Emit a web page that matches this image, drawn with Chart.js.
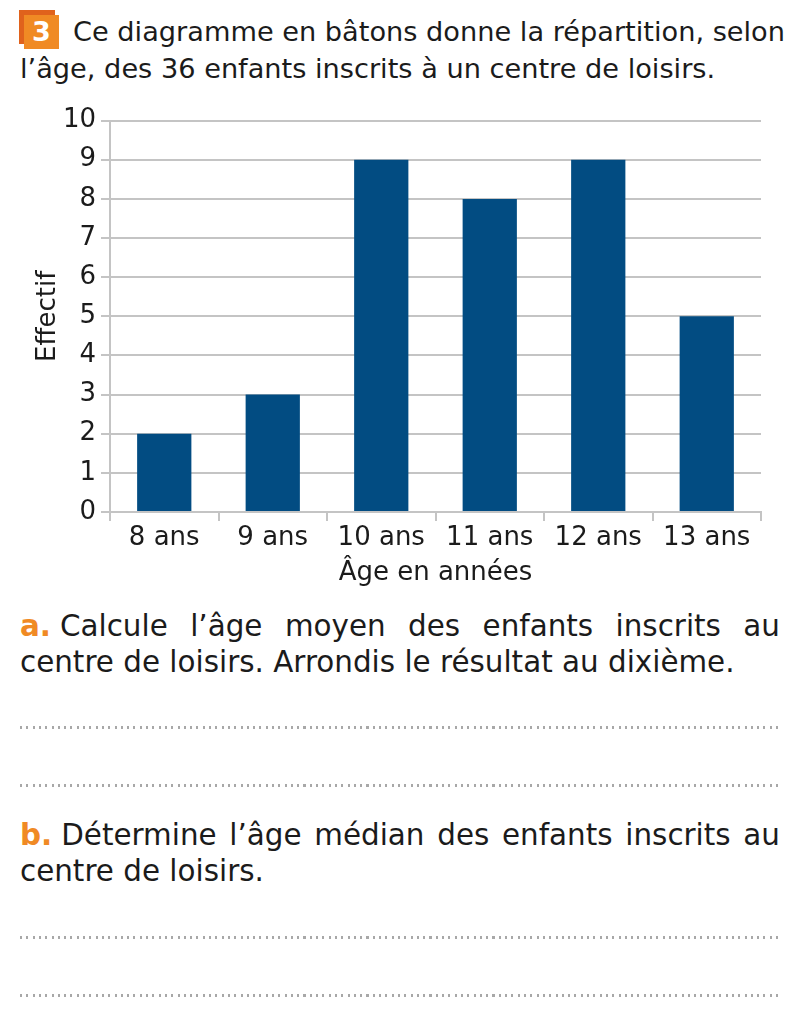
<!DOCTYPE html>
<html lang="fr">
<head>
  <meta charset="UTF-8">
  <title>Répartition selon l'âge</title>
  <script src="https://cdn.jsdelivr.net/npm/chart.js"></script>
  <style>
    body {
      margin: 0;
      width: 803px;
      height: 1035px;
      background: #fff;
      font-family: 'DejaVu Sans', sans-serif;
      color: #1b1b1b;
      position: relative;
      overflow: hidden;
    }
    .txt { position: absolute; font-size: 27.2px; line-height: 36px; white-space: nowrap; }
    .par { font-size: 29.4px; }
    .num {
      position: absolute; left: 24px; top: 15px; width: 35px; height: 34px;
      background: #f08a24; color: #fff; font-weight: bold; font-size: 27px;
      text-align: center; line-height: 34px;
    }
    .num-shadow { position: absolute; left: 19px; top: 10px; width: 36px; height: 34px; background: #e0621c; }
    .lbl { color: #f08a24; font-weight: bold; margin-right: 9px; }
    .just { text-align: justify; text-align-last: justify; width: 760px; left: 20px; }
    .dots {
      position: absolute; left: 20px; width: 762px; height: 3px;
      background: repeating-linear-gradient(to right, #a8a8a8 0 2px, transparent 2px 6.3px);
    }
    #wrap { position: absolute; left: 0; top: 100px; width: 803px; height: 500px; }
  </style>
</head>
<body>
  <div class="num-shadow"></div>
  <div class="num">3</div>
  <div class="txt" style="left:73px; top:14px;">Ce diagramme en bâtons donne la répartition, selon</div>
  <div class="txt" style="left:20px; top:51px;">l’âge, des 36 enfants inscrits à un centre de loisirs.</div>

  <div id="wrap"><canvas id="chart"></canvas></div>

  <div class="txt par just" style="top:608px;"><span class="lbl">a.</span>Calcule l’âge moyen des enfants inscrits au</div>
  <div class="txt par" style="left:20px; top:644px;">centre de loisirs. Arrondis le résultat au dixième.</div>
  <div class="dots" style="top:726px;"></div>
  <div class="dots" style="top:784px;"></div>
  <div class="txt par just" style="top:817px;"><span class="lbl">b.</span>Détermine l’âge médian des enfants inscrits au</div>
  <div class="txt par" style="left:20px; top:853px;">centre de loisirs.</div>
  <div class="dots" style="top:936px;"></div>
  <div class="dots" style="top:994px;"></div>

  <script>
    const ages = ["8 ans", "9 ans", "10 ans", "11 ans", "12 ans", "13 ans"];
    const effectifs = [2, 3, 9, 8, 9, 5];
    const yTicks = [0, 1, 2, 3, 4, 5, 6, 7, 8, 9, 10];

    const gris = "#c4c4c4";
    const police = { family: "'DejaVu Sans', sans-serif", size: 26 };

    new Chart(document.getElementById("chart"), {
      type: "bar",
      data: {
        labels: ages,
        datasets: [{
          label: "Effectif",
          data: effectifs,
          backgroundColor: "#024c82",
          borderWidth: 0,
          categoryPercentage: 1,
          barPercentage: 0.5
        }]
      },
      options: {
        responsive: true,
        maintainAspectRatio: false,
        animation: false,
        layout: { padding: { left: 0, right: 42, top: 19, bottom: 0 } },
        plugins: { legend: { display: false }, tooltip: { enabled: false } },
        scales: {
          x: {
            afterFit: s => { s.height = 88; },
            grid: {
              color: c => c.index === ages.length ? gris : "transparent",
              tickColor: gris,
              lineWidth: 2,
              tickLength: 9
            },
            border: { color: gris, width: 2 },
            ticks: { color: "#1b1b1b", font: police, padding: 2, maxRotation: 0 },
            title: { display: true, text: "Âge en années", color: "#1b1b1b", font: police, padding: { top: 0, bottom: 11 } }
          },
          y: {
            min: 0,
            max: 10,
            afterFit: s => { s.width = 110; },
            afterBuildTicks: s => { s.ticks = yTicks.map(v => ({ value: v })); },
            grid: { color: gris, lineWidth: 2, tickLength: 9 },
            border: { color: gris, width: 2 },
            ticks: { color: "#1b1b1b", font: police, padding: 5 },
            title: { display: true, text: "Effectif", color: "#1b1b1b", font: police, padding: { top: 33, bottom: 0 } }
          }
        }
      }
    });
  </script>
</body>
</html>
